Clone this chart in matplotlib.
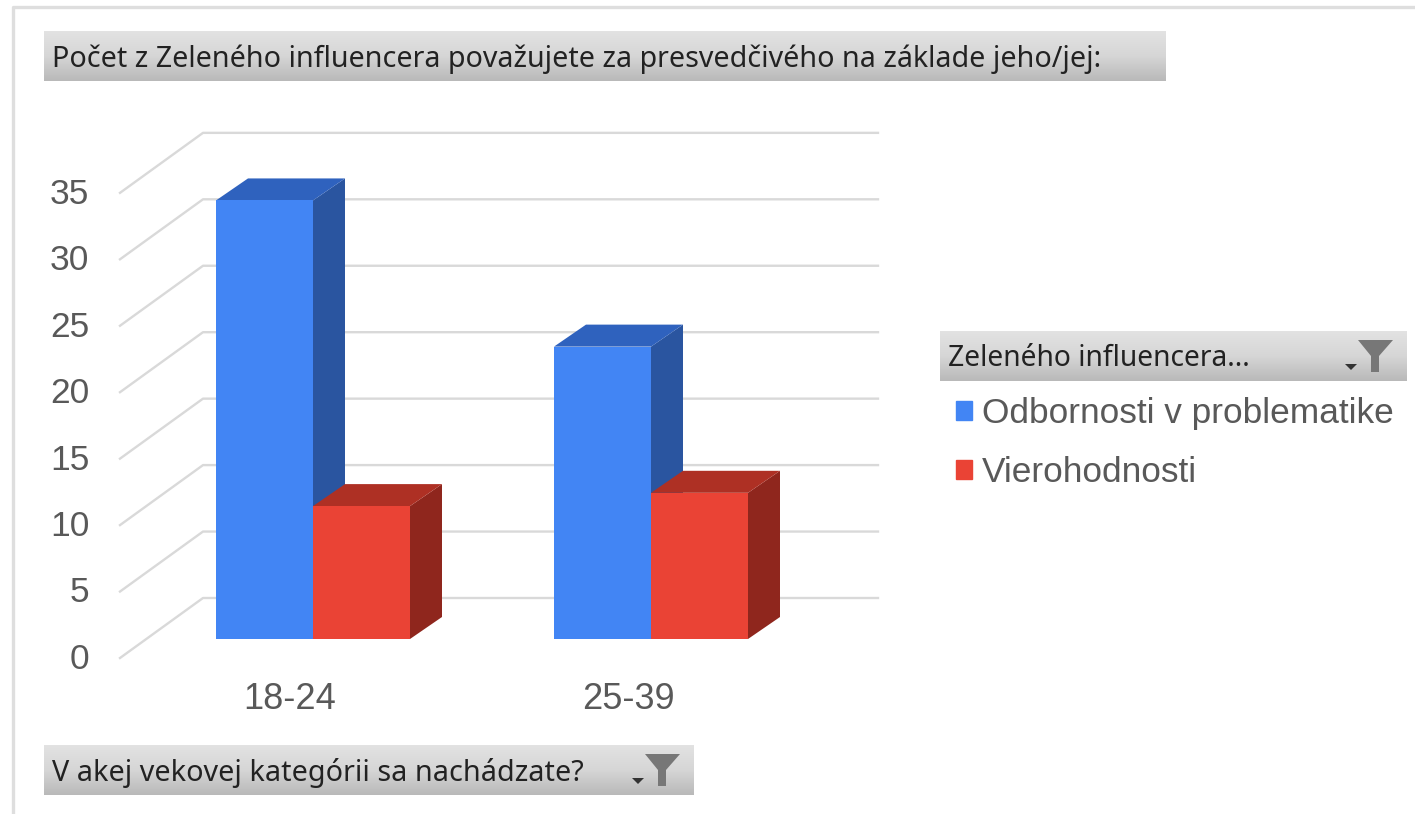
#!/usr/bin/env python
"""Pivot style 3D column chart: Zeleny influencer by age group."""

import matplotlib
matplotlib.use("Agg")
import matplotlib.pyplot as plt
from matplotlib.colors import LinearSegmentedColormap
from matplotlib.patches import Patch, Polygon
from matplotlib.transforms import ScaledTranslation
import numpy as np

W, H = 1415, 814

# Data
categories = ["18-24", "25-39"]
series_names = ["Odbornosti v problematike", "Vierohodnosti"]
odbornosti = [33, 22]
vierohodnosti = [10, 11]
y_ticks = [0, 5, 10, 15, 20, 25, 30, 35]

title_text = "Počet z Zeleného influencera považujete za presvedčivého na základe jeho/jej:"
legend_header = "Zeleného influencera..."
axis_header = "V akej vekovej kategórii sa nachádzate?"

# Colours: front, top, side
BLUE = ("#4285F4", "#2F62BE", "#2A55A0")
RED = ("#EA4335", "#AE3024", "#8F261D")
TEXT = "#595959"
GRID = "#D9D9D9"

# Pixel layout of the plot area
AX_L, AX_R, AX_B, AX_T = 120, 878, 658, 133
PX_PER_CAT = 338.0
PX_PER_UNIT = 13.29

fig = plt.figure(figsize=(W / 100, H / 100), dpi=100, facecolor="white")

# overlay in pixel coordinates for the header bars and frame
deco = fig.add_axes([0, 0, 1, 1], zorder=0)
deco.set_xlim(0, W)
deco.set_ylim(H, 0)
deco.axis("off")

ax = fig.add_axes([AX_L / W, 1 - AX_B / H, (AX_R - AX_L) / W, (AX_B - AX_T) / H], zorder=1)
ax.patch.set_alpha(0)
ax.set_xlim((AX_L - 313) / PX_PER_CAT, (AX_R - 313) / PX_PER_CAT)
ax.set_ylim(0, (AX_B - AX_T) / PX_PER_UNIT)
for s in ax.spines.values():
    s.set_visible(False)

# Depth of the floor and of a bar, in data units
floor_dx, floor_dy = 83 / PX_PER_CAT, 60 / PX_PER_UNIT
bar_dx, bar_dy = 32 / PX_PER_CAT, 22 / PX_PER_UNIT
bar_base = 19 / PX_PER_UNIT
bar_w = 97 / PX_PER_CAT

# Grid: diagonal on the side wall, horizontal on the back wall
x_left = ax.get_xlim()[0]
for v in y_ticks:
    ax.plot([x_left, x_left + floor_dx, ax.get_xlim()[1]],
            [v, v + floor_dy, v + floor_dy], color=GRID, lw=1.7, zorder=1, clip_on=False)


def draw_bar(x_left_edge, value, cols):
    x0, x1 = x_left_edge, x_left_edge + bar_w
    top = bar_base + value
    ax.bar(x0, value, width=bar_w, bottom=bar_base, align="edge", color=cols[0], zorder=3)
    ax.add_patch(Polygon([(x1, bar_base), (x1 + bar_dx, bar_base + bar_dy),
                          (x1 + bar_dx, top + bar_dy), (x1, top)],
                         closed=True, fc=cols[2], ec="none", zorder=2))
    ax.add_patch(Polygon([(x0, top), (x0 + bar_dx, top + bar_dy),
                          (x1 + bar_dx, top + bar_dy), (x1, top)],
                         closed=True, fc=cols[1], ec="none", zorder=2))


xs = np.arange(len(categories))
for i in xs:
    draw_bar(i - bar_w, odbornosti[i], BLUE)
for i in xs:
    draw_bar(i, vierohodnosti[i], RED)

# Ticks
ax.set_yticks(y_ticks)
ax.set_xticks(xs - 23 / PX_PER_CAT)
ax.set_xticklabels(categories)
ax.tick_params(axis="both", length=0, labelcolor=TEXT)
ax.tick_params(axis="y", pad=22, labelsize=25.5)
ax.tick_params(axis="x", pad=17, labelsize=26)
for lab in ax.get_xticklabels() + ax.get_yticklabels():
    lab.set_family("Liberation Sans")
# y labels sit a little above their grid line ends
up = ScaledTranslation(0, 1.5 / 72, fig.dpi_scale_trans)
for lab in ax.get_yticklabels():
    lab.set_transform(lab.get_transform() + up)

# Legend
handles = [Patch(color=BLUE[0], label=series_names[0]),
           Patch(color=RED[0], label=series_names[1])]
leg = fig.legend(handles=handles, loc="upper left",
                 bbox_to_anchor=(928 / W, 1 - 369 / H), frameon=False,
                 handlelength=0.46, handleheight=0.46, handletextpad=0.26,
                 labelspacing=0.74, borderpad=0.3,
                 prop={"family": "Liberation Sans", "size": 25.4})
for t in leg.get_texts():
    t.set_color(TEXT)

# Frame lines of the screenshot
deco.plot([13, 13, W], [H, 7, 7], color="#DEDEDE", lw=2.4)

hdr_cmap = LinearSegmentedColormap.from_list("hdr", ["#E2E2E2", "#D6D6D6", "#B9B9B9"])


def header(x0, x1, y0, y1, text, size, funnel=False):
    grad = np.linspace(0, 1, 50).reshape(-1, 1)
    deco.imshow(grad, extent=(x0, x1, y1, y0), cmap=hdr_cmap, aspect="auto", zorder=1)
    deco.text(x0 + 8, (y0 + y1) / 2 + 3, text, fontsize=size, family="Noto Sans",
              color="#222222", va="center", ha="left", zorder=2)
    if funnel:
        fx = x1 - 49
        fy = y0 + 9
        deco.add_patch(Polygon([(fx, fy), (fx + 35, fy), (fx + 21, fy + 16),
                                (fx + 21, fy + 32), (fx + 13, fy + 32), (fx + 13, fy + 16)],
                               closed=True, fc="#777777", ec="none", zorder=2))
        deco.add_patch(Polygon([(fx - 13, fy + 24), (fx - 1, fy + 24), (fx - 7, fy + 30)],
                               closed=True, fc="#333333", ec="none", zorder=2))


header(44, 1166, 31, 81, title_text, 20.64)
header(940, 1407, 331, 381, legend_header, 20.3, funnel=True)
header(44, 694, 745, 795, axis_header, 20.7, funnel=True)
deco.set_xlim(0, W)
deco.set_ylim(H, 0)

fig.savefig("out.png", dpi=100)
